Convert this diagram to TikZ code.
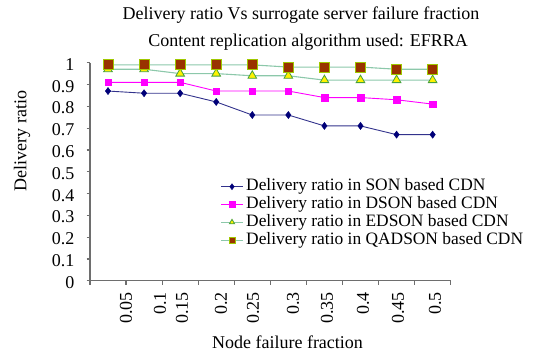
\documentclass[tikz,border=0pt]{standalone}
\usepackage{fontspec}
\setmainfont{Liberation Serif}
\usetikzlibrary{plotmarks}
\definecolor{sonline}{RGB}{50,50,140}
\definecolor{sonmark}{RGB}{0,0,120}
\definecolor{dsonc}{RGB}{255,0,255}
\definecolor{greenline}{RGB}{140,200,170}
\definecolor{triedge}{RGB}{70,160,60}
\definecolor{qaface}{RGB}{153,51,0}
\definecolor{qaedge}{RGB}{160,200,0}
\definecolor{axisc}{RGB}{110,110,110}
\tikzset{
  txt/.style={inner sep=0pt,font=\fontsize{18}{20}\selectfont},
  legtxt/.style={inner sep=0pt,font=\fontsize{17.4}{20}\selectfont},
  son/.style={sonline,line width=0.9pt,mark=diamond*,mark size=3.6pt,mark options={fill=sonmark,draw=sonmark,line width=0.4pt}},
  dson/.style={dsonc,line width=0.9pt,mark=square*,mark size=3.3pt,mark options={fill=dsonc,draw=dsonc,line width=0.4pt}},
  edson/.style={greenline,line width=1.1pt,mark=triangle*,mark size=5pt,mark options={fill=yellow,draw=triedge,line width=0.8pt}},
  qadson/.style={greenline,line width=1.1pt,mark=square*,mark size=5pt,mark options={fill=qaface,draw=qaedge,line width=0.9pt}},
}
\newcommand{\LegendEntry}[4]{% ime, y polozaj legende, slog serije, besedilo
	\draw[#3,mark size=3pt,mark indices={2}] plot coordinates {(221,#2) (232,#2) (243,#2)};
	\node[legtxt,anchor=west] (#1) at (246,#2) {#4};
	}

\begin{document}
\begin{tikzpicture}[x=1pt,y=-1pt]
	\useasboundingbox (0,0) rectangle (544,353);
	\node[txt] (title1) at (301,15) {Delivery ratio Vs surrogate server failure fraction};
	\node[txt] (title2) at (308,42) {Content replication algorithm used: EFRRA};
	\node[txt,rotate=90] (ylabel) at (22,141) {Delivery ratio};
	\node[txt] (xlabel) at (287.5,342) {Node failure fraction};
	% osi
	\draw[axisc,line width=1.2pt] (90,62.7)--(90,280.7)--(450.7,280.7);
	\foreach \v [count=\i from 0] in {0,0.1,0.2,0.3,0.4,0.5,0.6,0.7,0.8,0.9,1}{
		\draw[axisc,line width=1.2pt] (86.5,280.7-21.8*\i)--(90,280.7-21.8*\i);
		\node[txt,anchor=east] (ytick\i) at (74.5,282.5-21.8*\i) {\v};
	}
	\foreach \i in {0,...,10}
		\draw[axisc,line width=1.2pt] (90+36.07*\i,280.7)--(90+36.07*\i,285);
	\foreach \x/\v [count=\i] in {126/0.05,160/0.1,182/0.15,221/0.2,253/0.25,293/0.3,327/0.35,363/0.4,398/0.45,435/0.5}
		\node[txt,rotate=90,anchor=east] (xtick\i) at (\x,292) {\v};
	% serije
	\begin{scope}[shift={(108,280.7)},x=36.07pt,y=218pt]
		\draw[son] plot coordinates {(0,.87) (1,.86) (2,.86) (3,.82) (4,.76) (5,.76) (6,.71) (7,.71) (8,.67) (9,.67)};
		\draw[dson] plot coordinates {(0,.91) (1,.91) (2,.91) (3,.87) (4,.87) (5,.87) (6,.84) (7,.84) (8,.83) (9,.81)};
		\draw[edson] plot coordinates {(0,.97) (1,.97) (2,.95) (3,.95) (4,.94) (5,.94) (6,.92) (7,.92) (8,.92) (9,.92)};
		\draw[qadson] plot coordinates {(0,.99) (1,.99) (2,.99) (3,.99) (4,.99) (5,.98) (6,.98) (7,.98) (8,.97) (9,.97)};
	\end{scope}
	% legenda
	\LegendEntry{leg1}{186.7}{son}{Delivery ratio in SON based CDN}
	\LegendEntry{leg2}{204.3}{dson}{Delivery ratio in DSON based CDN}
	\LegendEntry{leg3}{222.3}{edson}{Delivery ratio in EDSON based CDN}
	\LegendEntry{leg4}{240.7}{qadson}{Delivery ratio in QADSON based CDN}
\end{tikzpicture}
\end{document}
